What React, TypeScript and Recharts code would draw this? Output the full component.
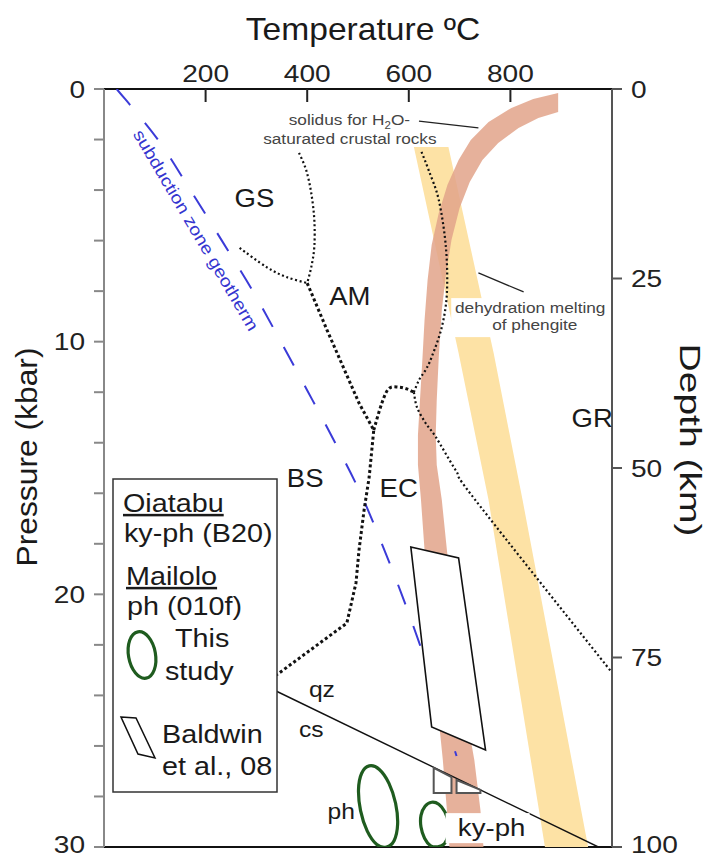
import React from 'react';
import { ComposedChart, XAxis, YAxis, Scatter } from 'recharts';

const FONT = '"Liberation Sans", Arial, Helvetica, sans-serif';

// ---- axes ----
const TEMP_TICKS = [0, 200, 400, 600, 800, 1000];
const TEMP_LABELS = [200, 400, 600, 800];
const PRESSURE_TICKS = [0, 2, 4, 6, 8, 10, 12, 14, 16, 18, 20, 22, 24, 26, 28, 30];
const PRESSURE_LABELS = [0, 10, 20, 30];
const DEPTH_TICKS = [0, 25, 50, 75, 100];

// ---- series (t = °C, p = kbar) ----
const geotherm = [
  { t: 25, p: 0 }, { t: 106, p: 2 }, { t: 170, p: 4 }, { t: 232, p: 6 }, { t: 293, p: 8 },
  { t: 348, p: 10 }, { t: 402, p: 12 }, { t: 455, p: 14 }, { t: 505, p: 16 }, { t: 547, p: 18 },
  { t: 586, p: 20 }, { t: 622, p: 22 }, { t: 656, p: 24 }, { t: 694, p: 26.4 },
];

const phengiteBand = [
  { t: 610, p: 2.3 }, { t: 698, p: 10.45 }, { t: 757, p: 16.27 }, { t: 868, p: 30 },
  { t: 953, p: 30 }, { t: 824, p: 16.27 }, { t: 767, p: 10.45 }, { t: 678, p: 2.3 },
];

const solidusBand = [
  { t: 894, p: 0.16 }, { t: 845, p: 0.4 }, { t: 802, p: 0.75 }, { t: 757, p: 1.31 }, { t: 722, p: 2.02 },
  { t: 698, p: 2.81 }, { t: 676, p: 3.8 }, { t: 659, p: 4.91 }, { t: 645, p: 6.17 }, { t: 637, p: 7.56 },
  { t: 631, p: 9.14 }, { t: 627, p: 10.61 }, { t: 622, p: 12.31 }, { t: 618, p: 13.69 }, { t: 618, p: 14.88 },
  { t: 624, p: 16.27 }, { t: 631, p: 18.25 }, { t: 643, p: 21.02 }, { t: 655, p: 24.18 }, { t: 667, p: 26.56 },
  { t: 675, p: 28.54 }, { t: 680, p: 30 },
  { t: 747, p: 30 }, { t: 741, p: 28.54 }, { t: 729, p: 26.56 }, { t: 708, p: 24.18 }, { t: 690, p: 21.02 },
  { t: 675, p: 18.25 }, { t: 665, p: 16.27 }, { t: 655, p: 14.88 }, { t: 653, p: 13.69 }, { t: 655, p: 12.31 },
  { t: 659, p: 10.61 }, { t: 665, p: 8.75 }, { t: 673, p: 7.36 }, { t: 684, p: 5.98 }, { t: 700, p: 4.71 },
  { t: 720, p: 3.68 }, { t: 745, p: 2.81 }, { t: 776, p: 2.14 }, { t: 816, p: 1.54 }, { t: 855, p: 1.15 },
  { t: 894, p: 0.91 },
];

const gsAmLower = [{ t: 267, p: 6.29 }, { t: 320, p: 7.05 }, { t: 359, p: 7.44 }, { t: 400, p: 7.68 }];
const gsAmUpper = [
  { t: 384, p: 2.53 }, { t: 398, p: 3.21 }, { t: 408, p: 4.12 }, { t: 414, p: 5.18 },
  { t: 414, p: 6.25 }, { t: 408, p: 7.05 }, { t: 400, p: 7.68 },
];
const amBsEc = [
  { t: 400, p: 7.68 }, { t: 439, p: 9.54 }, { t: 502, p: 12.43 }, { t: 531, p: 13.5 }, { t: 522, p: 15.36 },
  { t: 512, p: 16.66 }, { t: 502, p: 18.25 }, { t: 496, p: 19.55 }, { t: 478, p: 21.14 }, { t: 345, p: 23.11 },
  { t: 316, p: 23.5 },
];
const amEcHump = [
  { t: 531, p: 13.5 }, { t: 547, p: 12.43 }, { t: 561, p: 11.85 }, { t: 580, p: 11.8 }, { t: 596, p: 11.87 },
  { t: 610, p: 12.0 },
];
const wetSolidus = [
  { t: 610, p: 12.0 }, { t: 620, p: 11.52 }, { t: 633, p: 11.12 }, { t: 645, p: 10.61 }, { t: 665, p: 9.42 },
  { t: 675, p: 8.07 }, { t: 673, p: 6.25 }, { t: 659, p: 4.39 }, { t: 639, p: 3.21 }, { t: 625, p: 2.49 },
];
const ecGrLine = [
  { t: 610, p: 12.0 }, { t: 616, p: 12.59 }, { t: 633, p: 13.22 }, { t: 653, p: 13.77 }, { t: 692, p: 15.08 },
  { t: 731, p: 16.27 }, { t: 998, p: 23.05 },
];
const qzCsLine = [{ t: 300, p: 23.45 }, { t: 973, p: 30 }];

const baldwinBox = [{ t: 604, p: 18.13 }, { t: 698, p: 18.56 }, { t: 751, p: 26.16 }, { t: 645, p: 25.25 }];
const baldwinSmall1 = [{ t: 649, p: 26.87 }, { t: 649, p: 27.86 }, { t: 684, p: 27.86 }, { t: 684, p: 27.23 }];
const baldwinSmall2 = [{ t: 694, p: 27.35 }, { t: 694, p: 27.86 }, { t: 741, p: 27.86 }, { t: 741, p: 27.74 }];

const phEllipse = [
  { t: 556, p: 30.0 }, { t: 571, p: 29.75 }, { t: 578, p: 29.1 }, { t: 574, p: 28.27 }, { t: 561, p: 27.48 },
  { t: 542, p: 26.93 }, { t: 522, p: 26.79 }, { t: 507, p: 27.09 }, { t: 501, p: 27.73 }, { t: 505, p: 28.56 },
  { t: 518, p: 29.36 }, { t: 537, p: 29.9 },
];
const kyPhEllipse = [
  { t: 657, p: 29.99 }, { t: 670, p: 29.87 }, { t: 678, p: 29.51 }, { t: 678, p: 29.05 }, { t: 671, p: 28.61 },
  { t: 659, p: 28.31 }, { t: 645, p: 28.23 }, { t: 632, p: 28.39 }, { t: 624, p: 28.75 }, { t: 624, p: 29.21 },
  { t: 631, p: 29.65 }, { t: 643, p: 29.95 },
];

// ---- labels ----
const regionLabels = [
  { t: 296, p: 4.67, text: 'GS' }, { t: 484, p: 8.55, text: 'AM' }, { t: 396, p: 15.75, text: 'BS' },
  { t: 580, p: 16.15, text: 'EC' }, { t: 961, p: 13.38, text: 'GR' },
];
const phaseLabels = [
  { t: 429, p: 24.06, text: 'qz' }, { t: 408, p: 25.65, text: 'cs' }, { t: 467, p: 28.89, text: 'ph' },
];
const kyPhLabel = [{ t: 763, p: 29.57, text: 'ky-ph' }];
const geothermLabel = [{ t: 171, p: 5.7, text: 'subduction zone geotherm' }];
const solidusNote = [{ t: 483, p: 1.42, text: 'solidus for H₂O-' }, { t: 484, p: 2.18, text: 'saturated crustal rocks' }];
const phengiteNote = [{ t: 839, p: 8.87, text: 'dehydration melting' }, { t: 848, p: 9.54, text: 'of phengite' }];
const solidusLeader = [{ t: 620, p: 1.27 }, { t: 737, p: 1.54 }];
const phengiteLeader = [{ t: 737, p: 7.28 }, { t: 826, p: 8.03 }];
const axisAnchor = [{ t: 0, d: 0 }, { t: 1000, d: 100 }];

// ---- helpers ----
type Pt = { x: number; y: number };
function curvePath(pts: Pt[], closed: boolean, smooth: boolean): string {
  if (!pts || pts.length === 0) return '';
  if (!smooth) return 'M' + pts.map((p) => `${p.x},${p.y}`).join('L') + (closed ? 'Z' : '');
  const n = pts.length;
  const get = (i: number) => (closed ? pts[(i + n) % n] : pts[Math.max(0, Math.min(n - 1, i))]);
  let d = `M${pts[0].x},${pts[0].y}`;
  const segs = closed ? n : n - 1;
  for (let i = 0; i < segs; i++) {
    const p0 = get(i - 1), p1 = get(i), p2 = get(i + 1), p3 = get(i + 2);
    const c1x = p1.x + (p2.x - p0.x) / 6, c1y = p1.y + (p2.y - p0.y) / 6;
    const c2x = p2.x - (p3.x - p1.x) / 6, c2y = p2.y - (p3.y - p1.y) / 6;
    d += `C${c1x},${c1y} ${c2x},${c2y} ${p2.x},${p2.y}`;
  }
  return d + (closed ? 'Z' : '');
}

const pathLine = (style: any, closed = false, smooth = false) => (props: any) => (
  <path d={curvePath(props.points, closed, smooth)} {...style} />
);

const NoShape = () => <g />;

const textShape = (size: number, sx = 1.12, fill = '#1a1a1a') => (props: any) => (
  <text
    transform={`translate(${props.cx},${props.cy}) scale(${sx},1)`}
    textAnchor="middle"
    fontSize={size}
    fill={fill}
    fontFamily={FONT}
  >
    {props.payload.text}
  </text>
);

const kyPhShape = (props: any) => (
  <g>
    <rect x={props.cx - 46} y={props.cy - 23} width={84} height={30} fill="#fff" />
    <text transform={`translate(${props.cx},${props.cy}) scale(1.15,1)`} textAnchor="middle" fontSize={24} fill="#1a1a1a" fontFamily={FONT}>
      {props.payload.text}
    </text>
  </g>
);

const geothermTextShape = (props: any) => (
  <text
    transform={`translate(${props.cx},${props.cy}) rotate(59.5) scale(1.15,1)`}
    textAnchor="middle"
    fontSize={17}
    fill="#3434cf"
    fontFamily={FONT}
  >
    {props.payload.text}
  </text>
);

const noteShape = (withBg: boolean) => (props: any) => {
  const txt: string = props.payload.text;
  const parts = txt.split('₂');
  return (
    <g>
      {withBg && props.index === 0 ? (
        <rect x={props.cx - 79} y={props.cy - 15} width={157} height={39} fill="#fff" />
      ) : null}
      <text
        transform={`translate(${props.cx},${props.cy}) scale(1.15,1)`}
        textAnchor="middle"
        fontSize={15}
        fill="#444"
        fontFamily={FONT}
      >
        {parts.length > 1 ? (
          <>
            {parts[0]}
            <tspan fontSize={10} dy={4}>2</tspan>
            <tspan dy={-4}>{parts[1]}</tspan>
          </>
        ) : (
          txt
        )}
      </text>
    </g>
  );
};

const TopTick = (props: any) => {
  const { x, y, payload } = props;
  const v = payload.value;
  if (!TEMP_LABELS.includes(v)) return <g />;
  return (
    <g>
      <line x1={x} y1={y} x2={x} y2={y + 13} stroke="#222" strokeWidth={2} />
      <text transform={`translate(${x},${y - 7}) scale(1.17,1)`} textAnchor="middle" fontSize={24} fill="#222" fontFamily={FONT}>
        {v}
      </text>
    </g>
  );
};

const LeftTick = (props: any) => {
  const { x, y, payload } = props;
  const v = payload.value;
  const base = v === 30 ? y + 5.5 : y + 8.5;
  return (
    <g>
      <line x1={x - 10} y1={y} x2={x} y2={y} stroke="#888" strokeWidth={2} />
      {PRESSURE_LABELS.includes(v) ? (
        <text transform={`translate(${x - 19},${base}) scale(1.17,1)`} textAnchor="end" fontSize={24} fill="#222" fontFamily={FONT}>
          {v}
        </text>
      ) : null}
    </g>
  );
};

const RightTick = (props: any) => {
  const { x, y, payload } = props;
  const v = payload.value;
  const base = v === 100 ? y + 5.5 : y + 8.5;
  return (
    <g>
      <line x1={x} y1={y} x2={x + 10} y2={y} stroke="#555" strokeWidth={2} />
      <text transform={`translate(${x + 19},${base}) scale(1.17,1)`} textAnchor="start" fontSize={24} fill="#222" fontFamily={FONT}>
        {v}
      </text>
    </g>
  );
};

function SText(props: any) {
  const { x, y, size, sx = 1.15, anchor = 'start', fill = '#1a1a1a', rotate = 0, underline = false, children } = props;
  return (
    <text
      transform={`translate(${x},${y}) rotate(${rotate}) scale(${sx},1)`}
      fontSize={size}
      textAnchor={anchor}
      fill={fill}
      fontFamily={FONT}
      textDecoration={underline ? 'underline' : undefined}
    >
      {children}
    </text>
  );
}

const dotted = { fill: 'none', stroke: '#111', strokeWidth: 2.2, strokeDasharray: '2 2.6' };
const dottedBold = { fill: 'none', stroke: '#111', strokeWidth: 3, strokeDasharray: '3 2.6' };
const GREEN = '#1f5c1f';

export default function App() {
  const common = { dataKey: 'p', lineType: 'joint' as const, shape: NoShape, isAnimationActive: false, legendType: 'none' as const };
  return (
    <div style={{ position: 'relative', width: 700, height: 852, fontFamily: FONT }}>
      <ComposedChart width={700} height={852} margin={{ top: 0, right: 0, bottom: 0, left: 0 }}>
        <XAxis
          type="number"
          dataKey="t"
          orientation="top"
          domain={[0, 1000]}
          ticks={TEMP_TICKS}
          interval={0}
          height={81}
          tickSize={0}
          tickMargin={0}
          tick={TopTick}
          tickLine={false}
          axisLine={{ stroke: '#111', strokeWidth: 2 }}
          allowDataOverflow
        />
        <XAxis
          xAxisId="b"
          type="number"
          dataKey="t"
          orientation="bottom"
          domain={[0, 1000]}
          height={13}
          tick={false}
          tickLine={false}
          axisLine={{ stroke: '#111', strokeWidth: 2 }}
          allowDataOverflow
        />
        <YAxis
          type="number"
          dataKey="p"
          orientation="left"
          reversed
          domain={[0, 30]}
          ticks={PRESSURE_TICKS}
          interval={0}
          width={96}
          tickSize={0}
          tickMargin={0}
          tick={LeftTick}
          tickLine={false}
          axisLine={{ stroke: '#888', strokeWidth: 2 }}
          allowDataOverflow
        />
        <YAxis
          yAxisId="d"
          type="number"
          dataKey="d"
          orientation="right"
          reversed
          domain={[0, 100]}
          ticks={DEPTH_TICKS}
          interval={0}
          width={96}
          tickSize={0}
          tickMargin={0}
          tick={RightTick}
          tickLine={false}
          axisLine={{ stroke: '#555', strokeWidth: 2 }}
          allowDataOverflow
        />

        <Scatter {...common} data={phengiteBand} line={pathLine({ fill: '#fde2a5', stroke: 'none' }, true)} />
        <Scatter {...common} data={solidusBand} line={pathLine({ fill: '#e2a389', fillOpacity: 0.85, stroke: 'none' }, true)} />

        <Scatter {...common} data={geotherm} line={pathLine({ fill: 'none', stroke: '#3b3bd8', strokeWidth: 2, strokeDasharray: '21 23' }, false, true)} />

        <Scatter {...common} data={gsAmLower} line={pathLine(dotted, false, true)} />
        <Scatter {...common} data={gsAmUpper} line={pathLine(dotted, false, true)} />
        <Scatter {...common} data={amBsEc} line={pathLine(dottedBold)} />
        <Scatter {...common} data={amEcHump} line={pathLine(dottedBold, false, true)} />
        <Scatter {...common} data={wetSolidus} line={pathLine(dotted, false, true)} />
        <Scatter {...common} data={ecGrLine} line={pathLine(dotted, false, true)} />

        <Scatter {...common} data={qzCsLine} line={pathLine({ fill: 'none', stroke: '#111', strokeWidth: 1.4 })} />

        <Scatter {...common} data={baldwinBox} line={pathLine({ fill: '#fff', stroke: '#111', strokeWidth: 1.6 }, true)} />
        <Scatter {...common} data={baldwinSmall1} line={pathLine({ fill: '#fff', stroke: '#555', strokeWidth: 2 }, true)} />
        <Scatter {...common} data={baldwinSmall2} line={pathLine({ fill: '#fff', stroke: '#555', strokeWidth: 2 }, true)} />

        <Scatter {...common} data={phEllipse} line={pathLine({ fill: 'none', stroke: GREEN, strokeWidth: 3.2 }, true, true)} />
        <Scatter {...common} data={kyPhEllipse} line={pathLine({ fill: 'none', stroke: GREEN, strokeWidth: 3.2 }, true, true)} />

        <Scatter {...common} data={solidusLeader} line={pathLine({ fill: 'none', stroke: '#222', strokeWidth: 1.3 })} />
        <Scatter {...common} data={phengiteLeader} line={pathLine({ fill: 'none', stroke: '#222', strokeWidth: 1.3 })} />

        <Scatter dataKey="p" data={solidusNote} shape={noteShape(false)} isAnimationActive={false} legendType="none" />
        <Scatter dataKey="p" data={phengiteNote} shape={noteShape(true)} isAnimationActive={false} legendType="none" />
        <Scatter dataKey="p" data={geothermLabel} shape={geothermTextShape} isAnimationActive={false} legendType="none" />
        <Scatter dataKey="p" data={regionLabels} shape={textShape(25, 1.1)} isAnimationActive={false} legendType="none" />
        <Scatter dataKey="p" data={phaseLabels} shape={textShape(22, 1.12)} isAnimationActive={false} legendType="none" />
        <Scatter dataKey="p" data={kyPhLabel} shape={kyPhShape} isAnimationActive={false} legendType="none" />

        <Scatter xAxisId="b" yAxisId="d" dataKey="d" data={axisAnchor} shape={NoShape} isAnimationActive={false} legendType="none" />
      </ComposedChart>

      <svg
        width={714}
        height={858}
        style={{ position: 'absolute', left: -8, top: -8, pointerEvents: 'none', overflow: 'visible' }}
      >
        <SText x={363} y={40} size={32} sx={1.05} anchor="middle">Temperature ºC</SText>
        <SText x={37} y={457} size={30} sx={1.06} anchor="middle" rotate={-90}>Pressure (kbar)</SText>
        <SText x={680} y={440} size={30} sx={1.3} anchor="middle" rotate={90}>Depth (km)</SText>

        <rect x={113} y={479} width={164} height={313} fill="#fff" stroke="#333" strokeWidth={1.5} />
        <SText x={123} y={512} size={25} underline>Oiatabu</SText>
        <SText x={124} y={542} size={25}>ky-ph (B20)</SText>
        <SText x={126} y={585} size={25} underline>Mailolo</SText>
        <SText x={127} y={615} size={25}>ph (010f)</SText>
        <ellipse cx={142} cy={655} rx={13.5} ry={23.5} fill="none" stroke={GREEN} strokeWidth={3.2} transform="rotate(-10,142,655)" />
        <SText x={175} y={647} size={25}>This</SText>
        <SText x={165} y={680} size={25}>study</SText>
        <polygon points="121,717 136,718 155,758 138,754" fill="none" stroke="#111" strokeWidth={1.5} />
        <SText x={162} y={743} size={25}>Baldwin</SText>
        <SText x={162} y={775} size={25}>et al., 08</SText>
      </svg>
    </div>
  );
}
